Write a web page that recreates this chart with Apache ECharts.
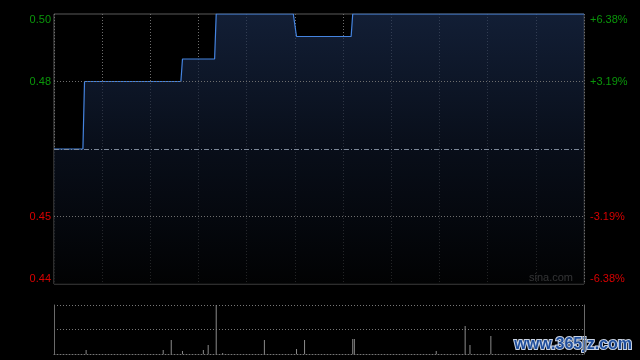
<!DOCTYPE html>
<html><head><meta charset="utf-8">
<script src="https://cdn.jsdelivr.net/npm/echarts@6/dist/echarts.min.js"></script>
<style>html,body{margin:0;padding:0;background:#000;}#c{width:640px;height:360px;}</style>
</head><body><div id="c"></div>
<script>
// Previous close and axis ticks
const prevClose = 0.47;
const priceTicks = [0.44, 0.455, 0.485, 0.50];
const leftTickLabels = ['0.44', '0.45', '0.48', '0.50'];
const rightTickLabels = ['-6.38%', '-3.19%', '+3.19%', '+6.38%'];
// Minutes since open (9:30; 150 = 12:00/13:00; 330 = 16:00) and price at change points
const priceMinutes = [0, 18, 19, 79, 80, 100, 101, 149, 151, 185, 186, 330];
const priceValues = [0.47, 0.47, 0.485, 0.485, 0.49, 0.49, 0.50, 0.50, 0.495, 0.495, 0.50, 0.50];
// Volume bars
const volMinutes = [20, 68, 73, 80, 93, 96, 101, 105, 131, 151, 156, 186, 187, 238, 256, 259, 272];
const volValues = [40000, 40000, 140000, 30000, 40000, 90000, 490000, 10000, 140000, 50000, 140000, 150000, 150000, 30000, 280000, 90000, 180000];

const priceData = priceMinutes.map((m, i) => [m, priceValues[i]]);
const volData = volMinutes.map((m, i) => [m, volValues[i]]);
const volMax = Math.max(...volValues);
const green = '#0a960a', red = '#d80000';
const labelColor = v => (v >= prevClose ? green : red);

const chart = echarts.init(document.getElementById('c'), null, {renderer: 'canvas'});
chart.setOption({
  backgroundColor: '#000',
  animation: false,
  grid: [
    {left: 54, right: 56, top: 14, bottom: 76, show: true, borderColor: '#5a5a5a', borderWidth: 1, backgroundColor: 'transparent'},
    {left: 54, right: 56, top: 305, bottom: 6}
  ],
  xAxis: [
    {type: 'value', gridIndex: 0, min: 0, max: 330, interval: 30,
     axisLine: {show: false}, axisTick: {show: false}, axisLabel: {show: false},
     splitLine: {show: true, lineStyle: {color: '#6e6e6e', type: [1, 2], width: 1}}},
    {type: 'value', gridIndex: 1, min: 0, max: 330, interval: 30,
     axisLine: {show: true, lineStyle: {color: '#777', type: [1, 2]}}, axisTick: {show: false}, axisLabel: {show: false},
     splitLine: {show: false}}
  ],
  yAxis: [
    {type: 'value', gridIndex: 0, min: 0.44, max: 0.50, position: 'left',
     axisLine: {show: false}, axisTick: {show: false, customValues: priceTicks},
     splitLine: {show: false},
     axisLabel: {show: true, customValues: priceTicks, margin: 3, fontSize: 11, fontFamily: 'Liberation Sans, Arial, sans-serif',
       verticalAlignMinLabel: 'bottom', verticalAlignMaxLabel: 'top',
       formatter: v => leftTickLabels[priceTicks.findIndex(t => Math.abs(t - v) < 1e-6)] || '',
       color: v => labelColor(v)}},
    {type: 'value', gridIndex: 0, min: 0.44, max: 0.50, position: 'right',
     axisLine: {show: false}, axisTick: {show: false, customValues: priceTicks},
     splitLine: {show: false},
     axisLabel: {show: true, customValues: priceTicks, margin: 6, fontSize: 11, fontFamily: 'Liberation Sans, Arial, sans-serif',
       verticalAlignMinLabel: 'bottom', verticalAlignMaxLabel: 'top',
       formatter: v => rightTickLabels[priceTicks.findIndex(t => Math.abs(t - v) < 1e-6)] || '',
       color: v => labelColor(v)}},
    {type: 'value', gridIndex: 1, min: 0, max: volMax, interval: volMax / 2, position: 'left',
     axisLine: {show: true, lineStyle: {color: '#6a6a6a'}}, axisTick: {show: false}, axisLabel: {show: false},
     splitLine: {show: true, lineStyle: {color: '#777', type: [1, 2]}}},
    {type: 'value', gridIndex: 1, min: 0, max: volMax, position: 'right',
     axisLine: {show: true, lineStyle: {color: '#6a6a6a'}}, axisTick: {show: false}, axisLabel: {show: false},
     splitLine: {show: false}}
  ],
  series: [
    {type: 'line', xAxisIndex: 0, yAxisIndex: 0, data: priceData, showSymbol: false, symbol: 'none',
     lineStyle: {color: '#4584e0', width: 1.2},
     areaStyle: {color: new echarts.graphic.LinearGradient(0, 0, 0, 1, [
       {offset: 0, color: '#1a2b4c'}, {offset: 0.5, color: '#0c1424'}, {offset: 1, color: '#020304'}])},
     markLine: {silent: true, symbol: 'none', precision: 4, label: {show: false},
       data: [
         {yAxis: priceTicks[1], lineStyle: {color: '#6e6e6e', type: [1, 2], width: 1}},
         {yAxis: priceTicks[2], lineStyle: {color: '#6e6e6e', type: [1, 2], width: 1}},
         {yAxis: prevClose, lineStyle: {color: '#7d8899', type: [5, 2, 1, 2], width: 1}}
       ]}},
    {type: 'bar', xAxisIndex: 1, yAxisIndex: 2, data: volData, barWidth: 1, itemStyle: {color: '#8a8a8a'}}
  ],
  graphic: [
    {type: 'text', right: 67, top: 272, style: {text: 'sina.com', fill: '#a0a0a0', fontSize: 11, fontFamily: 'Liberation Sans, Arial, sans-serif'}},
    {type: 'text', right: 7, top: 336, style: {text: 'www.365jz.com', fill: '#1f4e9c', stroke: '#c9d3e3', lineWidth: 2, fontSize: 16, fontWeight: 'bold', fontFamily: 'Liberation Sans, Arial, sans-serif'}}
  ]
});
</script></body></html>
